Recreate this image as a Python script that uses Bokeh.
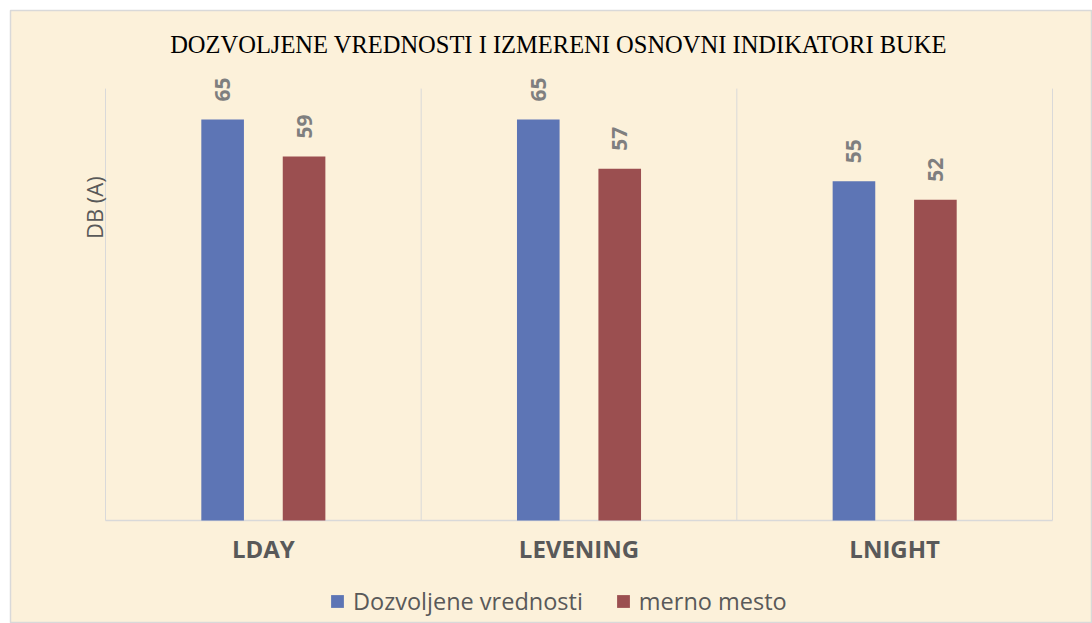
import math
from bokeh.plotting import figure
from bokeh.models import ColumnDataSource, Range1d, Legend, LegendItem
from bokeh.core.properties import value
from bokeh.embed import file_html
from bokeh.resources import INLINE

# ---- data ----
categories = ["LDAY", "LEVENING", "LNIGHT"]
dozvoljene = [65, 65, 55]
merno = [59, 57, 52]
series_names = ["Dozvoljene vrednosti", "merno mesto"]
title_text = "DOZVOLJENE VREDNOSTI I IZMERENI OSNOVNI INDIKATORI BUKE"
y_label = "DB (A)"
y_max = 70

BG = "#FCF1DA"
BLUE = "#5D75B5"
RED = "#9B4F50"
GRID = "#D9D9D9"

pos = [i + 0.5 for i in range(len(categories))]
off = 0.129
bw = 0.135

src = ColumnDataSource(dict(
    xd=[x - off for x in pos],
    xm=[x + off for x in pos],
    d=dozvoljene,
    m=merno,
    d_lab=[str(v) for v in dozvoljene],
    m_lab=[str(v) for v in merno],
))

p = figure(
    width=1092, height=623,
    x_range=Range1d(-0.301, len(categories) + 0.1267),
    y_range=Range1d(-16.69, 82.66),
    output_backend="svg", toolbar_location=None,
    min_border_left=10, min_border_right=0, min_border_top=10, min_border_bottom=0,
)
p.background_fill_color = BG
p.border_fill_color = "#FFFFFF"
p.outline_line_color = GRID
p.outline_line_width = 1.5
p.xaxis.visible = False
p.yaxis.visible = False
p.ygrid.grid_line_color = None
p.xgrid.grid_line_color = None

# category separators and baseline
bounds = list(range(len(categories) + 1))
p.segment(x0=bounds, y0=[0] * len(bounds), x1=bounds, y1=[y_max] * len(bounds),
          line_color=GRID, line_width=1)
p.segment(x0=[0], y0=[0], x1=[len(categories)], y1=[0], line_color=GRID, line_width=1.5)

r1 = p.vbar(x="xd", top="d", width=bw, source=src, fill_color=BLUE, line_color=None)
r2 = p.vbar(x="xm", top="m", width=bw, source=src, fill_color=RED, line_color=None)

for xc, lab, yc in [("xd", "d_lab", "d"), ("xm", "m_lab", "m")]:
    p.text(x=xc, y=yc, text=lab, source=src,
           angle=math.pi / 2, text_align="left", text_baseline="middle",
           y_offset=-18, text_font=value("Open Sans"), text_font_style="bold",
           text_font_size="21px", text_color="#7F7F7F")

# category labels (x axis)
p.text(x=pos, y=[-4.46] * len(pos), text=categories, text_align="center",
       text_baseline="middle", text_font=value("Open Sans"), text_font_style="bold",
       text_font_size="24px", text_color="#595959")

# title and y-axis title
p.text(x=[1.435], y=[77.07], text=[title_text], text_align="center", text_baseline="middle",
       text_font=value("Liberation Serif"), text_font_size="24.5px", text_color="#000000")
p.text(x=[-0.035], y=[50.7], text=[y_label], angle=math.pi / 2,
       text_align="center", text_baseline="middle",
       text_font=value("Open Sans"), text_font_size="22px", text_color="#595959")

legend = Legend(items=[LegendItem(label=series_names[0], renderers=[r1]),
                       LegendItem(label=series_names[1], renderers=[r2])],
                location=(319, 6), orientation="horizontal",
                glyph_width=16, glyph_height=16, label_standoff=8, spacing=32,
                padding=0, margin=0, border_line_color=None, background_fill_alpha=0,
                label_text_font="Open Sans", label_text_font_size="23.5px",
                label_text_color="#595959")
p.add_layout(legend, "center")

open("out.html", "w").write(file_html(p, INLINE))
